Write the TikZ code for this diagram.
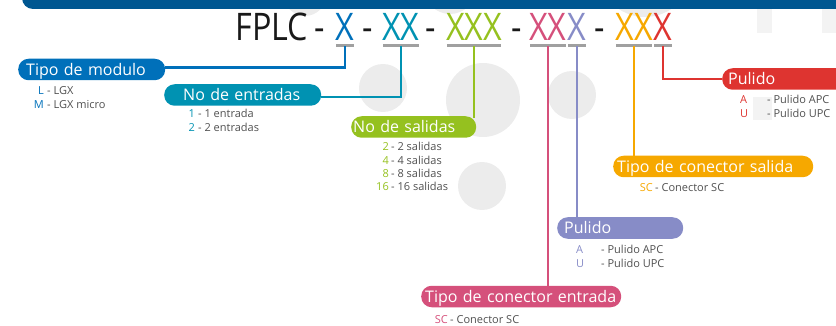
\documentclass[tikz,border=0pt]{standalone}
\usepackage{fontspec}
\setmainfont{Open Sans}
\newfontfamily\codefont[FakeStretch=0.85]{Open Sans}
\usetikzlibrary{positioning}
\definecolor{banner}{RGB}{0,87,145}
\definecolor{cmod}{RGB}{0,112,186}
\definecolor{cent}{RGB}{0,146,178}
\definecolor{csal}{RGB}{149,193,31}
\definecolor{cine}{RGB}{213,80,123}
\definecolor{cpol}{RGB}{135,140,199}
\definecolor{cout}{RGB}{246,168,0}
\definecolor{cpor}{RGB}{222,52,48}
\definecolor{ulgray}{RGB}{160,160,160}
\definecolor{desctext}{RGB}{80,80,80}
\definecolor{blob}{RGB}{236,236,236}
\definecolor{wmark}{RGB}{243,243,243}

\begin{document}
\begin{tikzpicture}[x=1pt,y=-1pt,
  codetxt/.style={font=\codefont\fontsize{38}{38}\selectfont,anchor=base,inner sep=0pt,text=black!90},
  pill/.style={anchor=west,rounded corners=10.5pt,text=white,font=\fontsize{16}{16}\selectfont,
    minimum height=21.5pt,inner ysep=0pt,text height=11.5pt,text depth=0pt,align=left},
  opt/.style={font=\fontsize{11}{11}\selectfont,anchor=base east,inner sep=0pt},
  desc/.style={font=\fontsize{11}{11}\selectfont,anchor=base west,inner sep=0pt,text=desctext},
  ul/.style={draw=ulgray,line width=2.5pt,shorten <=1pt,shorten >=1pt},
  link/.style={line width=2.2pt}]
\useasboundingbox (0,0) rectangle (836,326);
\clip (0,0) rectangle (836,326);
% backdrop
\fill[blob] (305,-5) circle (21);
\fill[blob] (450,-12) circle (26);
\fill[blob] (645,-30) circle (47);
\fill[blob] (383,88) circle (24);
\fill[blob] (483,100) circle (37);
\fill[blob] (572,95) circle (24);
\fill[blob] (482,186) circle (24);
\fill[wmark] (757,9) rectangle (772,33);
\fill[wmark] (822,9) rectangle (840,33);
\fill[wmark] (753,97) rectangle (772,120);
\fill[banner,rounded corners=11pt] (22,-20) rectangle (860,9);
% code line
\node[codetxt] (fplc) at (272,41) {FPLC};
\node[codetxt] (d1) at (320,41) {-};
\node[codetxt,text=cmod] (c1) at (345,41) {X};
\node[codetxt] (d2) at (368,41) {-};
\node[codetxt,text=cent] (c2) at (401,41) {XX};
\node[codetxt] (d3) at (431,41) {-};
\node[codetxt,text=csal] (c3) at (474,41) {XXX};
\node[codetxt] (d4) at (517,41) {-};
\node[codetxt,text=cine] (c4) at (548,41) {XX};
\node[codetxt,text=cpol] (c5) at (577,41) {X};
\node[codetxt] (d5) at (600,41) {-};
\node[codetxt,text=cout] (c6) at (634,41) {XX};
\node[codetxt,text=cpor] (c7) at (663,41) {X};
\foreach \c in {c1,c2,c3,c4,c5,c6,c7}
  \draw[ul] ([yshift=-4.5pt]\c.base west) -- ([yshift=-4.5pt]\c.base east);
% pills
\node[pill,fill=cmod,inner xsep=8pt,text width=131pt] (modulo) at (18,69.5) {Tipo de modulo};
\node[pill,fill=cent,inner xsep=19pt,text width=119pt] (entradas) at (164,95) {No de entradas};
\node[pill,fill=csal,inner xsep=2pt,text width=121pt] (salidas) at (351,127) {No de salidas};
\node[pill,fill=cpor,inner xsep=6pt,text width=150pt] (pulr) at (722,79) {Pulido};
\node[pill,fill=cout,inner xsep=4pt,text width=192pt] (csalida) at (613,166.5) {Tipo de conector salida};
\node[pill,fill=cpol,inner xsep=7pt,text width=112pt] (pulp) at (557,228) {Pulido};
\node[pill,fill=cine,inner xsep=4pt,text width=192pt] (centrada) at (421,296.5) {Tipo de conector entrada};
% links
\draw[link,cmod] ([yshift=-5.5pt]c1.base) |- ([yshift=2pt]modulo.east);
\draw[link,cent] ([yshift=-5.5pt]c2.base) |- ([yshift=-2pt]entradas.east);
\draw[link,csal] ([yshift=-5.5pt]c3.base) -- ([yshift=-2pt]c3.base |- salidas.north);
\draw[link,cine] ([yshift=-5.5pt]c4.base) -- ([yshift=-1pt]c4.base |- centrada.north);
\draw[link,cpol] ([yshift=-5.5pt]c5.base) -- ([yshift=-1pt]c5.base |- pulp.north);
\draw[link,cout] ([yshift=-5.5pt]c6.base) -- ([yshift=-1pt]c6.base |- csalida.north);
\draw[link,cpor] ([yshift=-5.5pt]c7.base) |- (pulr.west);
% legends
\node[opt,text=cmod] (l1) at (44,95) {L};
\node[desc] (l1d) at (47,95) {- LGX};
\node[opt,text=cmod] (l2) at (44,109) {M};
\node[desc] (l2d) at (47,109) {- LGX micro};
\node[opt,text=cent] (e1) at (195,118) {1};
\node[desc] (e1d) at (198,118) {- 1 entrada};
\node[opt,text=cent] (e2) at (195,132) {2};
\node[desc] (e2d) at (198,132) {- 2 entradas};
\foreach \n/\yy in {2/151,4/164.5,8/177.5,16/191}{
  \node[opt,text=csal] (s\n) at (389,\yy) {\n};
  \node[desc] (s\n d) at (391,\yy) {- \n\ salidas};
}
\node[opt,anchor=base west,text=cpor] (pr1) at (740,104) {A};
\node[desc] (pr1d) at (767,104) {- Pulido APC};
\node[opt,anchor=base west,text=cpor] (pr2) at (740,118) {U};
\node[desc] (pr2d) at (767,118) {- Pulido UPC};
\node[opt,text=cout] (os) at (653,192) {SC};
\node[desc] (osd) at (655,192) {- Conector SC};
\node[opt,anchor=base west,text=cpol] (pp1) at (576,254) {A};
\node[desc] (pp1d) at (601,254) {- Pulido APC};
\node[opt,anchor=base west,text=cpol] (pp2) at (576,267) {U};
\node[desc] (pp2d) at (601,267) {- Pulido UPC};
\node[opt,text=cine] (is) at (448,323) {SC};
\node[desc] (isd) at (450,323) {- Conector SC};
\end{tikzpicture}
\end{document}
